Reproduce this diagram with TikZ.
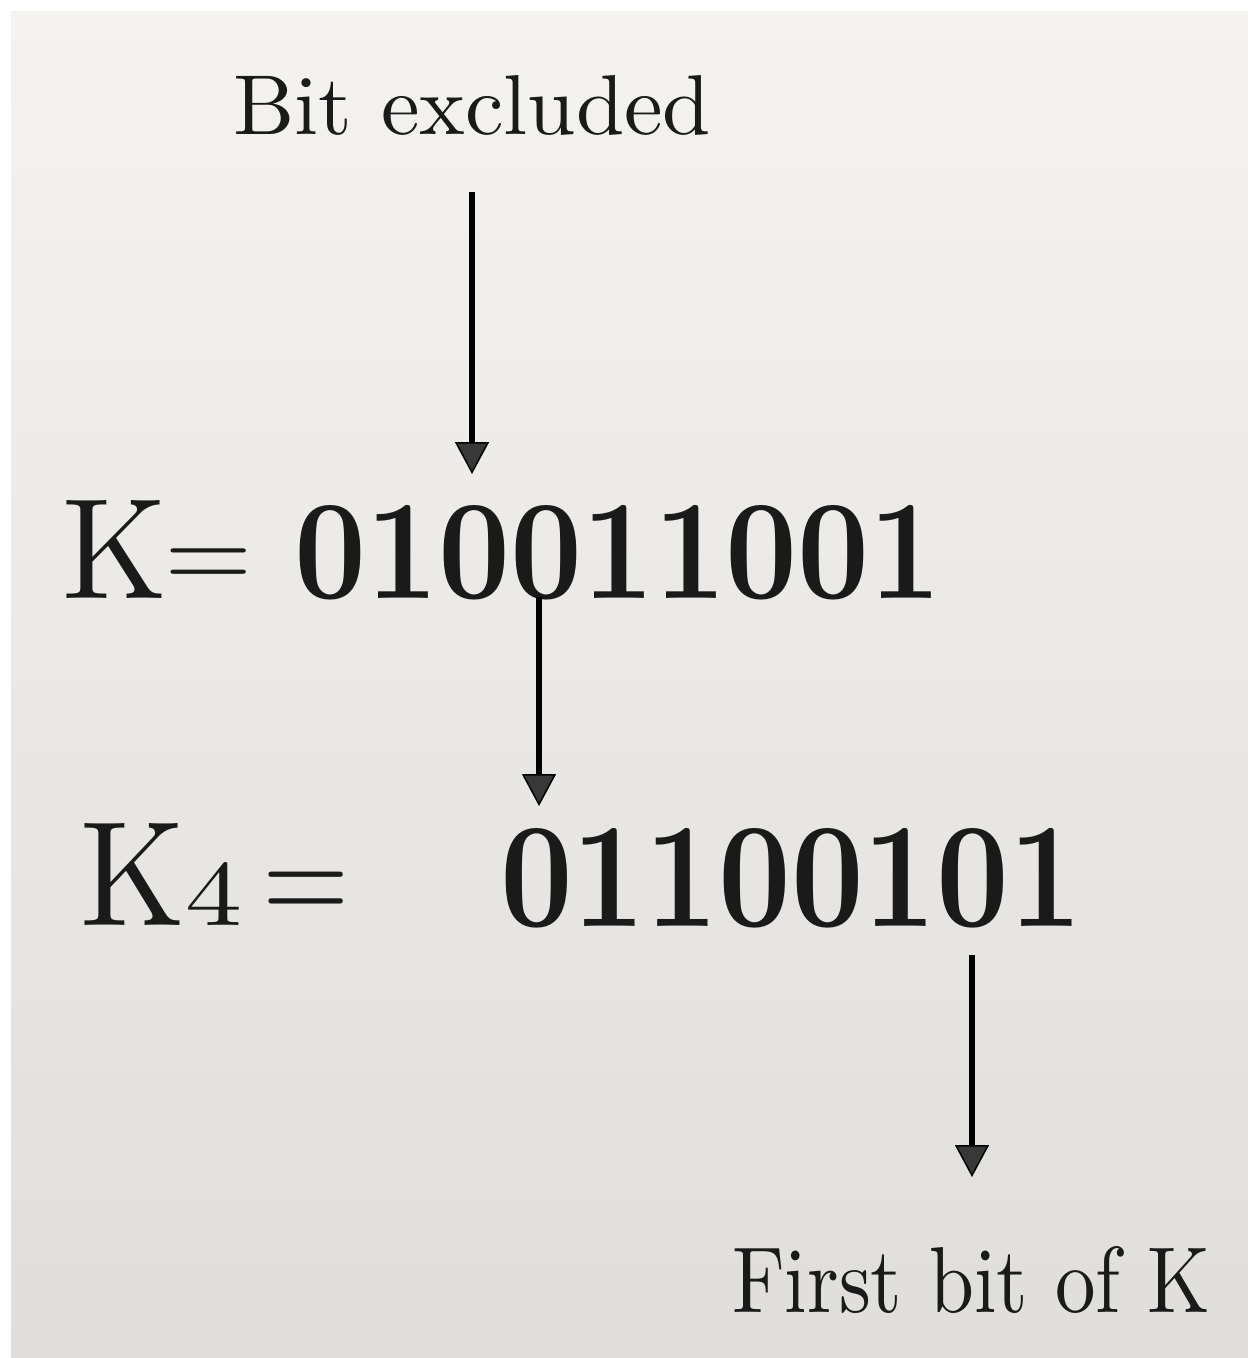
\documentclass[tikz,border=0pt]{standalone}
\usepackage{graphicx}
\usetikzlibrary{arrows.meta}
\definecolor{paperTop}{HTML}{F4F3EF}
\definecolor{paperBot}{HTML}{DFDEDA}
\definecolor{ink}{HTML}{1A1A1A}
\tikzset{
  txt/.style={inner sep=0pt, outer sep=0pt, anchor=base west, text=ink},
  bits/.style={txt, font=\bfseries},
  pointer/.style={draw=black, line width=5.5pt,
    -{Triangle[length=32pt,width=34pt,fill=black!78,line width=1.5pt]}, shorten >=1pt}
}
\begin{document}
\begin{tikzpicture}[x=1pt,y=-1pt]
\useasboundingbox (0,0) rectangle (1248,1358);
\fill[white] (0,0) rectangle (1248,1358);
\shade[top color=paperTop, bottom color=paperBot] (11,11) rectangle (1248,1358);

% texts
\node[txt] (bit) at (233,134) {\resizebox{478pt}{59pt}{Bit excluded}};

\node[txt] (K) at (62,598) {\resizebox{105pt}{98pt}{K}};
\node[txt] (eqA) at (165,591) {\fontsize{120pt}{120pt}\selectfont =};
\node[bits] (kbits) at (294,598) {\resizebox{648pt}{93pt}{010011001}};

\node[txt] (K4) at (81,925) {\resizebox{105pt}{102pt}{K}};
\node[txt] (sub) at (185,925) {\resizebox{57pt}{63pt}{4}};
\node[txt] (eqB) at (263,925) {\scalebox{0.79}[1]{\fontsize{150pt}{150pt}\selectfont =}};
\node[bits] (k4bits) at (500,926) {\resizebox{582pt}{98pt}{01100101}};

\node[txt] (first) at (732,1312) {\resizebox{478pt}{66pt}{First bit of K}};

% arrow end points
\coordinate (a1s) at (472,192);
\coordinate (a1e) at (472,475);
\coordinate (a2s) at (539,597);
\coordinate (a2e) at (539,807);
\coordinate (a3s) at (972,955);
\coordinate (a3e) at (972,1178);

\draw[pointer] (a1s) -- (a1e);
\draw[pointer] (a2s) -- (a2e);
\draw[pointer] (a3s) -- (a3e);
\end{tikzpicture}
\end{document}
